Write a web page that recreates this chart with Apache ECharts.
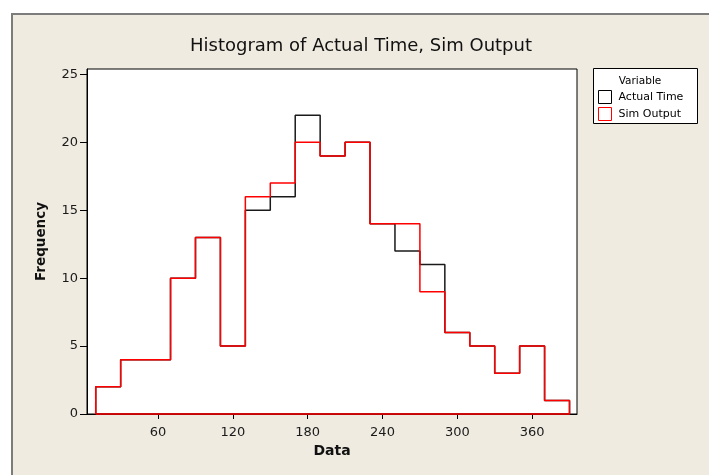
<!DOCTYPE html>
<html>
<head>
<meta charset="utf-8">
<script src="https://cdn.jsdelivr.net/npm/echarts@6/dist/echarts.min.js"></script>
<style>
  html, body { margin: 0; padding: 0; background: #ffffff; }
  #panel { position: absolute; left: 11px; top: 13px; width: 709px; height: 475px;
           background: #EFEBE1; border-left: 2px solid #7c7c7c; border-top: 2px solid #7c7c7c; }
  #chart { position: absolute; left: 0; top: 0; width: 709px; height: 475px; }
</style>
</head>
<body>
<div id="panel"></div>
<div id="chart"></div>
<script>
// Bin edges (data units) of the histogram
const binEdges = [10, 30, 50, 70, 90, 110, 130, 150, 170, 190, 210, 230, 250, 270, 290, 310, 330, 350, 370, 390];
// Frequencies per bin
const actualTime = [2, 4, 4, 10, 13, 5, 15, 16, 22, 19, 20, 14, 12, 11, 6, 5, 3, 5, 1];
const simOutput  = [2, 4, 4, 10, 13, 5, 16, 17, 20, 19, 20, 14, 14, 9, 6, 5, 3, 5, 1];
// Tick labels
const xTicks = [60, 120, 180, 240, 300, 360];
const yTicks = [0, 5, 10, 15, 20, 25];

function outline(counts) {
  const pts = [[binEdges[0], 0]];
  for (let i = 0; i < counts.length; i++) {
    pts.push([binEdges[i], counts[i]]);
    pts.push([binEdges[i + 1], counts[i]]);
  }
  pts.push([binEdges[binEdges.length - 1], 0]);
  pts.push([binEdges[0], 0]);
  return pts;
}

const FONT = 'DejaVu Sans';
const chart = echarts.init(document.getElementById('chart'), null, { renderer: 'canvas' });
chart.setOption({
  backgroundColor: 'transparent',
  animation: false,
  title: {
    text: 'Histogram of Actual Time, Sim Output',
    left: 185, top: 32,
    textStyle: { fontFamily: FONT, fontSize: 18, fontWeight: 'normal', color: '#111' }
  },
  grid: {
    left: 87, top: 69, right: 132, bottom: 61,
    show: true, backgroundColor: '#ffffff', borderColor: '#000', borderWidth: 1
  },
  xAxis: {
    type: 'value', min: 3, max: 396,
    name: 'Data', nameLocation: 'middle', nameGap: 30,
    nameTextStyle: { fontFamily: FONT, fontSize: 14, fontWeight: 'bold', color: '#111' },
    axisLine: { show: true, lineStyle: { color: '#000', width: 1 } },
    axisTick: { show: true, length: 5, customValues: xTicks, lineStyle: { color: '#000' } },
    axisLabel: { customValues: xTicks, fontFamily: FONT, fontSize: 13, color: '#1a1a1a', margin: 12 },
    splitLine: { show: false }
  },
  yAxis: {
    type: 'value', min: 0, max: 25.4,
    name: 'Frequency', nameLocation: 'middle', nameGap: 39,
    nameTextStyle: { fontFamily: FONT, fontSize: 13.5, fontWeight: 'bold', color: '#111' },
    axisLine: { show: true, lineStyle: { color: '#000', width: 1 } },
    axisTick: { show: true, length: 7, customValues: yTicks, lineStyle: { color: '#000' } },
    axisLabel: { customValues: yTicks, fontFamily: FONT, fontSize: 13, color: '#1a1a1a', margin: 9 },
    splitLine: { show: false }
  },
  legend: {
    orient: 'vertical', left: 598, top: 90, padding: 0,
    itemWidth: 13, itemHeight: 13, itemGap: 3,
    textStyle: { fontFamily: FONT, fontSize: 11, color: '#000', padding: [0, 0, 0, 2] },
    data: [
      { name: 'Actual Time', icon: 'rect', itemStyle: { color: '#fff', borderColor: '#000', borderWidth: 1 } },
      { name: 'Sim Output', icon: 'rect', itemStyle: { color: '#fff', borderColor: '#ff0000', borderWidth: 1 } }
    ]
  },
  graphic: [
    { type: 'rect', z: 0, shape: { x: 593.5, y: 68.5, width: 104, height: 55 },
      style: { fill: '#fff', stroke: '#000', lineWidth: 1 } },
    { type: 'text', z: 1, x: 640, y: 81,
      style: { text: 'Variable', fontFamily: FONT, fontSize: 10.5, fill: '#000', align: 'center', verticalAlign: 'middle' } }
  ],
  series: [
    { name: 'Actual Time', type: 'line', data: outline(actualTime), symbol: 'none', clip: false,
      lineStyle: { color: '#1a1a1a', width: 1.5 }, itemStyle: { color: '#1a1a1a' }, z: 3 },
    { name: 'Sim Output', type: 'line', data: outline(simOutput), symbol: 'none', clip: false,
      lineStyle: { color: '#ff0000', width: 1.5 }, itemStyle: { color: '#ff0000' }, z: 4 }
  ]
});
</script>
</body>
</html>
